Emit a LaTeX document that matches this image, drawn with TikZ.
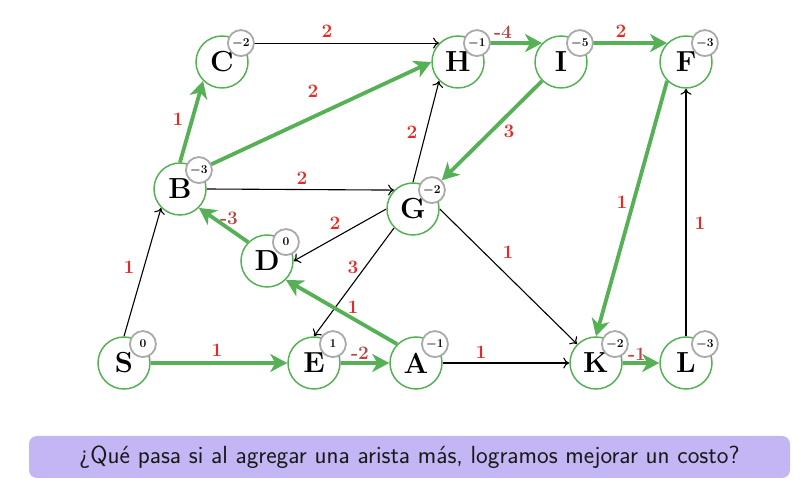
\documentclass[tikz,border=0pt]{standalone}
\usepackage{fontspec}
\usetikzlibrary{arrows.meta}
\pgfdeclarelayer{edgelayer}
\pgfsetlayers{edgelayer,main}
\definecolor{gr}{RGB}{86,176,86}
\definecolor{lblred}{RGB}{232,40,36}
\definecolor{lbldark}{RGB}{178,72,72}
\definecolor{badgegray}{RGB}{170,170,170}
\definecolor{boxfill}{RGB}{196,181,244}
\begin{document}
\begin{tikzpicture}[x=1pt,y=1pt,
  vtx/.style={circle, draw=gr, line width=1.5pt, fill=white, minimum size=52pt, inner sep=0pt, font=\fontsize{29}{32}\selectfont\bfseries},
  badge/.style={circle, draw=badgegray, line width=1.8pt, fill=white, minimum size=26pt, inner sep=0pt, font=\fontsize{11.5}{13}\selectfont\bfseries\boldmath},
  blk/.style={draw=black, line width=1.1pt, -{To[length=6pt,width=11pt]}},
  grn/.style={draw=gr, line width=3.8pt, -{Stealth[length=17pt,width=18pt,inset=5pt]}},
  wl/.style={font=\fontsize{19}{21}\selectfont\bfseries, text=lblred, inner sep=0pt},
  wn/.style={wl, text=lbldark},
]
\useasboundingbox (0,0) rectangle (804,-502);

% vertices
\node[vtx] (S) at (124,-363) {S};
\node[vtx] (E) at (314,-363) {E};
\node[vtx] (A) at (416,-363) {A};
\node[vtx] (K) at (596,-363) {K};
\node[vtx] (L) at (686,-363) {L};
\node[vtx] (B) at (180,-189) {B};
\node[vtx] (G) at (413,-209) {G};
\node[vtx] (D) at (267,-261) {D};
\node[vtx] (C) at (222,-62) {C};
\node[vtx] (H) at (458,-62) {H};
\node[vtx] (I) at (561,-62) {I};
\node[vtx] (F) at (686,-62) {F};

% badges
\node[badge] (Sb) at (S.45) {$0$};
\node[badge] (Eb) at (E.45) {$1$};
\node[badge] (Ab) at (A.45) {$-1$};
\node[badge] (Kb) at (K.45) {$-2$};
\node[badge] (Lb) at (L.45) {$-3$};
\node[badge] (Bb) at (B.45) {$-3$};
\node[badge] (Gb) at (G.45) {$-2$};
\node[badge] (Db) at (D.45) {$0$};
\node[badge] (Cb) at (C.45) {$-2$};
\node[badge] (Hb) at (H.45) {$-1$};
\node[badge] (Ib) at (I.45) {$-5$};
\node[badge] (Fb) at (F.45) {$-3$};

\begin{pgfonlayer}{edgelayer}
% black edges
\draw[blk] (C.north east) -- (H.north west);
\draw[blk] (B.east) -- (G.north west);
\draw[blk] (G.north) -- (H.south west);
\draw[blk] (L.north) -- (F.south);
\draw[blk] (G.west) -- (D.east);
\draw[blk] (G.south west) -- (E.north);
\draw[blk] (G.east) -- (K.north west);
\draw[blk] (S.north) -- (B.south west);
\draw[blk] (A.east) -- (K.west);
% green edges
\draw[grn] (B.north) -- (C.south west);
\draw[grn] (B.north east) -- (H.west);
\draw[grn] (H.north east) -- (I.north west);
\draw[grn] (I.north east) -- (F.north west);
\draw[grn] (I.south west) -- (Gb);
\draw[grn] (F.south west) -- (K.north);
\draw[grn] (D.north west) -- (B.south east);
\draw[grn] (A.north west) -- (D.south east);
\draw[grn] (S.east) -- (E.west);
\draw[grn] (E.east) -- (A.west);
\draw[grn] (K.east) -- (L.west);
\end{pgfonlayer}

% weights
\node[wl] (wCH) at (327,-31) {2};
\node[wl] (wBC) at (178,-119) {1};
\node[wl] (wBH) at (313,-91) {2};
\node[wl] (wBG) at (302,-178) {2};
\node[wl] (wGH) at (412,-132) {2};
\node[wn] (wHI) at (503,-32) {-4};
\node[wl] (wIF) at (621,-31) {2};
\node[wl] (wIG) at (509,-131) {3};
\node[wl] (wFK) at (622,-202) {1};
\node[wl] (wLF) at (700,-223) {1};
\node[wl] (wGD) at (335,-223) {2};
\node[wl] (wGE) at (353,-267) {3};
\node[wl] (wAD) at (353,-307) {1};
\node[wn] (wDB) at (229,-218) {-3};
\node[wl] (wSB) at (129,-267) {1};
\node[wl] (wSE) at (217,-350) {1};
\node[wn] (wEA) at (360,-353) {-2};
\node[wl] (wGK) at (508,-252) {1};
\node[wl] (wAK) at (481,-352) {1};
\node[wn] (wKL) at (637,-354) {-1};

% question box
\node[fill=boxfill, rounded corners=8pt, minimum width=761pt, minimum height=42pt, inner sep=0pt,
      font=\sffamily\fontsize{24.8}{28}\selectfont, text=black!90] (q) at (409.5,-457)
  {¿Qué pasa si al agregar una arista más, logramos mejorar un costo?};
\end{tikzpicture}
\end{document}
